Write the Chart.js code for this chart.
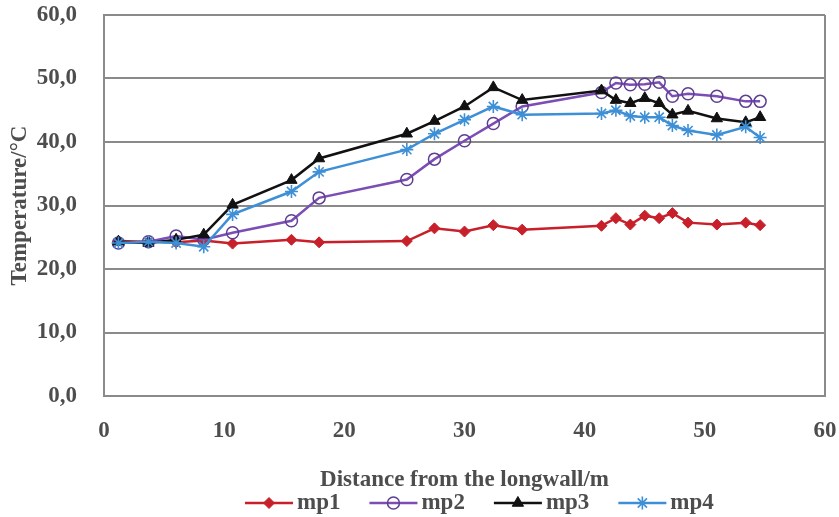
<!DOCTYPE html>
<html><head><meta charset="utf-8">
<script src="https://cdn.jsdelivr.net/npm/chart.js@4/dist/chart.umd.min.js"></script>
<style>html,body{margin:0;padding:0;background:#fff;}#wrap{width:839px;height:517px;}</style>
</head><body><div id="wrap"><canvas id="c" width="839" height="517"></canvas></div>
<script>
const seriesNames = ['mp1', 'mp2', 'mp3', 'mp4'];
const distances = [1.2, 3.7, 6.0, 8.3, 10.7, 15.6, 17.9, 25.2, 27.5, 30.0, 32.4, 34.8, 41.4, 42.6, 43.8, 45.0, 46.2, 47.3, 48.6, 51.0, 53.4, 54.6];
const mp1 = [24.4, 24.3, 24.2, 24.5, 24.0, 24.6, 24.2, 24.4, 26.4, 25.9, 26.9, 26.2, 26.8, 28.0, 27.0, 28.4, 28.0, 28.8, 27.3, 27.0, 27.3, 26.9];
const mp2 = [24.1, 24.3, 25.2, 24.6, 25.7, 27.6, 31.2, 34.1, 37.3, 40.2, 42.9, 45.6, 47.8, 49.3, 49.0, 49.1, 49.4, 47.2, 47.6, 47.2, 46.4, 46.4];
const mp3 = [24.3, 24.1, 24.6, 25.4, 30.1, 34.0, 37.4, 41.3, 43.3, 45.6, 48.6, 46.6, 48.1, 46.6, 46.1, 46.9, 46.1, 44.3, 44.9, 43.7, 43.1, 43.9];
const mp4 = [24.1, 24.3, 24.1, 23.5, 28.6, 32.2, 35.3, 38.8, 41.3, 43.5, 45.6, 44.3, 44.5, 45.0, 44.1, 43.9, 43.9, 42.6, 41.8, 41.1, 42.4, 40.7];
const xTicks = [0, 10, 20, 30, 40, 50, 60];
const yTicks = [0, 10, 20, 30, 40, 50, 60];
const xTitle = 'Distance from the longwall/m';
const yTitle = 'Temperature/°C';

const FONT = '"Liberation Serif", "Times New Roman", serif';
const TEXT = '#4d4d4d';
const GRID = '#8a8a8a';

const styles = [
  {color: '#c8202a', pt: 'rectRot', r: 5.5, bg: '#c8202a', pc: '#c8202a', bw: 1},
  {color: '#7b4db5', pt: 'circle', r: 6, bg: 'rgba(255,255,255,0)', pc: '#5e3e92', bw: 1.5},
  {color: '#111111', pt: 'triangle', r: 6.5, bg: '#111111', pc: '#111111', bw: 1},
  {color: '#3d8fd6', pt: 'star', r: 6.5, bg: '#3d8fd6', pc: '#3d8fd6', bw: 1.6}
];
const values = [mp1, mp2, mp3, mp4];

const datasets = seriesNames.map((name, i) => ({
  label: name,
  data: distances.map((d, j) => ({x: d, y: values[i][j]})),
  showLine: true,
  borderColor: styles[i].color,
  borderWidth: 2.5,
  pointStyle: styles[i].pt,
  pointRadius: styles[i].r,
  pointBackgroundColor: styles[i].bg,
  pointBorderColor: styles[i].pc,
  pointBorderWidth: styles[i].bw,
  tension: 0,
  order: 4 - i
}));

function drawMarker(ctx, st, x, y) {
  const r = st.r;
  ctx.save();
  ctx.fillStyle = st.bg; ctx.strokeStyle = st.pc; ctx.lineWidth = st.bw;
  ctx.beginPath();
  if (st.pt === 'rectRot') {
    ctx.moveTo(x, y - r); ctx.lineTo(x + r, y); ctx.lineTo(x, y + r); ctx.lineTo(x - r, y); ctx.closePath();
    ctx.fill(); ctx.stroke();
  } else if (st.pt === 'circle') {
    ctx.arc(x, y, r, 0, Math.PI * 2); ctx.fill(); ctx.stroke();
  } else if (st.pt === 'triangle') {
    ctx.moveTo(x, y - r); ctx.lineTo(x + r * 0.87, y + r * 0.5); ctx.lineTo(x - r * 0.87, y + r * 0.5); ctx.closePath();
    ctx.fill(); ctx.stroke();
  } else {
    for (let k = 0; k < 4; k++) {
      const a = k * Math.PI / 4;
      ctx.moveTo(x - r * Math.cos(a), y - r * Math.sin(a));
      ctx.lineTo(x + r * Math.cos(a), y + r * Math.sin(a));
    }
    ctx.stroke();
  }
  ctx.restore();
}

const legendPlugin = {
  id: 'lineLegend',
  afterDraw(chart) {
    const ctx = chart.ctx;
    ctx.save();
    ctx.font = 'bold 23px ' + FONT;
    ctx.textBaseline = 'middle';
    ctx.textAlign = 'left';
    const y = 503, lineLen = 48;
    let x = 245;
    seriesNames.forEach((name, i) => {
      const st = styles[i];
      ctx.strokeStyle = st.color; ctx.lineWidth = 2.5;
      ctx.beginPath(); ctx.moveTo(x, y); ctx.lineTo(x + lineLen, y); ctx.stroke();
      drawMarker(ctx, st, x + lineLen / 2, y);
      ctx.fillStyle = TEXT;
      ctx.fillText(name, x + lineLen + 4, y);
      x += lineLen + 4 + ctx.measureText(name).width + 29;
    });
    ctx.restore();
  }
};

function zeroPad(s) { s.paddingTop = 0; s.paddingBottom = 0; s.paddingLeft = 0; s.paddingRight = 0; }

new Chart(document.getElementById('c'), {
  type: 'scatter',
  data: {datasets},
  plugins: [legendPlugin],
  options: {
    responsive: false,
    animation: false,
    devicePixelRatio: 1,
    layout: {autoPadding: false, padding: {left: 0, top: 15, right: 14, bottom: 0}},
    plugins: {legend: {display: false}, tooltip: {enabled: false}},
    scales: {
      x: {
        type: 'linear', min: 0, max: 60,
        afterBuildTicks: s => { s.ticks = xTicks.map(v => ({value: v})); },
        afterFit: s => { s.height = 121; zeroPad(s); },
        ticks: {font: {family: FONT, size: 23, weight: 'bold'}, color: TEXT, padding: 21},
        grid: {drawTicks: false, lineWidth: 2, color: c => (c.tick && c.tick.value === 60) ? GRID : 'rgba(0,0,0,0)'},
        border: {display: true, color: GRID, width: 2},
        title: {display: true, text: xTitle, font: {family: FONT, size: 23, weight: 'bold'}, color: TEXT, padding: {top: 0, bottom: 23}}
      },
      y: {
        type: 'linear', min: 0, max: 60,
        afterBuildTicks: s => { s.ticks = yTicks.map(v => ({value: v})); },
        afterFit: s => { s.width = 104; zeroPad(s); },
        ticks: {font: {family: FONT, size: 23, weight: 'bold'}, color: TEXT, padding: 27,
          callback: v => v.toFixed(1).replace('.', ',')},
        grid: {drawTicks: false, lineWidth: 2, color: GRID},
        border: {display: true, color: GRID, width: 2},
        title: {display: true, text: yTitle, font: {family: FONT, size: 23, weight: 'bold'}, color: TEXT, padding: {top: 6, bottom: 0}}
      }
    }
  }
});
</script></body></html>
